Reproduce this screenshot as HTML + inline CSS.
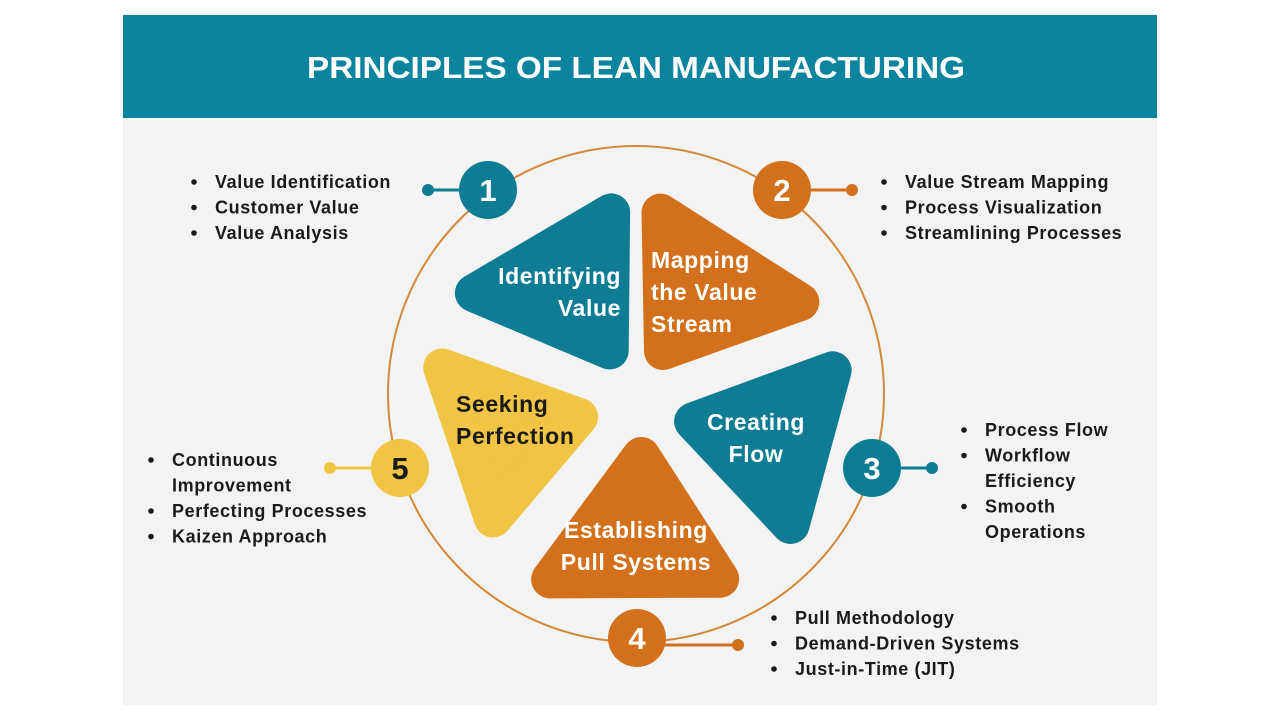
<!DOCTYPE html>
<html><head><meta charset="utf-8"><style>
html,body{margin:0;padding:0;background:#fff;width:1280px;height:720px;overflow:hidden}
svg{display:block;font-family:"Liberation Sans",sans-serif;font-weight:bold}
</style></head><body>
<svg id="s" width="1280" height="720" viewBox="0 0 1280 720">
<rect x="123" y="15" width="1034" height="690" fill="#f3f3f3"/>
<rect x="123" y="15" width="1034" height="103" fill="#0c849e"/>
<text x="636" y="78" text-anchor="middle" font-size="31" fill="#fff" textLength="658" lengthAdjust="spacingAndGlyphs">PRINCIPLES OF LEAN MANUFACTURING</text>
<circle cx="636" cy="394" r="248" fill="none" stroke="#d4883a" stroke-width="2"/>
<g id="petals"></g>
<g id="nodes"></g>
<g id="lists" font-size="18" letter-spacing="0.6" fill="#1a1a1a"></g>
</svg>
<script>
const NS='http://www.w3.org/2000/svg';
const teal='#0e7c93',orange='#d2701c',yellow='#f0c444';
const petals=[
 {name:'petal-identifying-value',c:teal,pts:[[436,296],[631,180],[631,382]],lines:['Identifying','Value'],tx:621,ty:284,anchor:'end',tc:'#fff'},
 {name:'petal-mapping-value-stream',c:orange,pts:[[641,180],[641,382],[838,307]],lines:['Mapping','the Value','Stream'],tx:651,ty:268,anchor:'start',tc:'#fff'},
 {name:'petal-creating-flow',c:teal,pts:[[858,342],[656,413],[799,562]],lines:['Creating','Flow'],tx:756,ty:430,anchor:'middle',tc:'#fff'},
 {name:'petal-establishing-pull',c:orange,pts:[[643,418],[516,596],[754,596]],lines:['Establishing','Pull Systems'],tx:636,ty:538,anchor:'middle',tc:'#fff'},
 {name:'petal-seeking-perfection',c:yellow,pts:[[416,340],[616,408],[487,556]],lines:['Seeking','Perfection'],tx:456,ty:412,anchor:'start',tc:'#1a1a1a'}
];
const g=document.getElementById('petals');
petals.forEach(p=>{
 const cx=(p.pts[0][0]+p.pts[1][0]+p.pts[2][0])/3, cy=(p.pts[0][1]+p.pts[1][1]+p.pts[2][1])/3;
 const ins=p.pts.map(([x,y])=>{const dx=cx-x,dy=cy-y,d=Math.hypot(dx,dy);return [x+dx/d*38,y+dy/d*38];});
 const pg=document.createElementNS(NS,'polygon');
 pg.setAttribute('points',ins.map(a=>a.join(',')).join(' '));
 pg.setAttribute('fill',p.c);pg.setAttribute('stroke',p.c);pg.setAttribute('stroke-width','38');pg.setAttribute('stroke-linejoin','round');
 
 
 g.appendChild(pg);
 p.lines.forEach((l,i)=>{
  const t=document.createElementNS(NS,'text');
  t.setAttribute('x',p.tx);t.setAttribute('y',p.ty+i*32);t.setAttribute('font-size','23');t.setAttribute('letter-spacing','0.6');
  t.setAttribute('fill',p.tc);t.setAttribute('text-anchor',p.anchor);t.textContent=l;
  
  
  g.appendChild(t);
 });
});
const nodes=[
 {n:'1',x:488,y:190,c:teal,dx:428,tc:'#fff'},
 {n:'2',x:782,y:190,c:orange,dx:852,tc:'#fff'},
 {n:'3',x:872,y:468,c:teal,dx:932,tc:'#fff'},
 {n:'4',x:637,y:638,c:orange,dx:738,dy:645,tc:'#fff'},
 {n:'5',x:400,y:468,c:yellow,dx:330,tc:'#1a1a1a'}
];
const ng=document.getElementById('nodes');
nodes.forEach(o=>{
 const ly=o.dy||o.y;
 const ln=document.createElementNS(NS,'polyline');
 ln.setAttribute('points',`${o.x},${ly} ${o.dx},${ly}`);ln.setAttribute('stroke',o.c);ln.setAttribute('stroke-width','3');
 
 
 ng.appendChild(ln);
 const d=document.createElementNS(NS,'circle');d.setAttribute('cx',o.dx);d.setAttribute('cy',ly);d.setAttribute('r','6');d.setAttribute('fill',o.c);
 
 
 ng.appendChild(d);
 const c=document.createElementNS(NS,'circle');c.setAttribute('cx',o.x);c.setAttribute('cy',o.y);c.setAttribute('r','29');c.setAttribute('fill',o.c);
 
 
 ng.appendChild(c);
 const t=document.createElementNS(NS,'text');t.setAttribute('x',o.x);t.setAttribute('y',o.y+11);t.setAttribute('font-size','31');
 t.setAttribute('text-anchor','middle');t.setAttribute('fill',o.tc);t.textContent=o.n;
 
 
 ng.appendChild(t);
});
const lists=[
 {name:'list-1',x:215,y:188,items:[['Value Identification'],['Customer Value'],['Value Analysis']]},
 {name:'list-2',x:905,y:188,items:[['Value Stream Mapping'],['Process Visualization'],['Streamlining Processes']]},
 {name:'list-3',x:985,y:436,items:[['Process Flow'],['Workflow','Efficiency'],['Smooth','Operations']]},
 {name:'list-4',x:795,y:624,items:[['Pull Methodology'],['Demand-Driven Systems'],['Just-in-Time (JIT)']]},
 {name:'list-5',x:172,y:466,items:[['Continuous','Improvement'],['Perfecting Processes'],['Kaizen Approach']]}
];
const lg=document.getElementById('lists');
lists.forEach(L=>{
 let y=L.y;
 L.items.forEach(it=>{
  const b=document.createElementNS(NS,'circle');b.setAttribute('cx',L.x-21);b.setAttribute('cy',y-6);b.setAttribute('r','2.8');b.setAttribute('fill','#1a1a1a');
  
  
  lg.appendChild(b);
  it.forEach(line=>{
   const t=document.createElementNS(NS,'text');t.setAttribute('x',L.x);t.setAttribute('y',y);t.textContent=line;
   
   
   lg.appendChild(t);y+=25.5;
  });
 });
});
</script>
</body></html>
